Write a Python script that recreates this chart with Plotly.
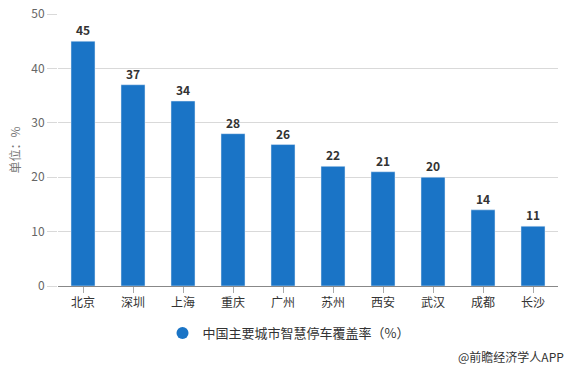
import plotly.graph_objects as go

cities = ["北京", "深圳", "上海", "重庆", "广州", "苏州", "西安", "武汉", "成都", "长沙"]
coverage = [45, 37, 34, 28, 26, 22, 21, 20, 14, 11]
series_name = "中国主要城市智慧停车覆盖率（%）"
y_ticks = [0, 10, 20, 30, 40, 50]

BAR = "#1a74c6"
FONT = "Noto Sans CJK SC, Microsoft YaHei, sans-serif"

fig = go.Figure()
fig.add_trace(go.Bar(
    x=cities, y=coverage, marker_color=BAR, showlegend=False,
    text=[str(v) for v in coverage], textposition="outside",
    textfont=dict(size=12, color="#333333", family=FONT),
    texttemplate="<b>%{text}</b>", cliponaxis=False,
))
fig.add_trace(go.Scatter(
    x=[None], y=[None], mode="markers", name=series_name,
    marker=dict(symbol="circle", size=12, color=BAR),
))

fig.update_layout(
    width=571, height=371,
    margin=dict(l=58, r=13, t=14, b=85, autoexpand=False),
    paper_bgcolor="white", plot_bgcolor="white",
    font=dict(family=FONT, color="#555555", size=12),
    bargap=0.52,
    legend=dict(orientation="h", x=0.209, y=-0.118, xanchor="left", yanchor="top",
                font=dict(size=13, color="#333333"), itemsizing="constant"),
    annotations=[dict(text="@前瞻经济学人APP", xref="paper", yref="paper",
                      x=1.016, y=-0.261, xanchor="right", yanchor="middle",
                      showarrow=False, font=dict(size=12, color="#333333"))],
)
fig.update_yaxes(range=[0, 50], tickvals=y_ticks, showgrid=True, gridcolor="#d9d9d9",
                 ticks="outside", ticklen=10, tickcolor="#d9d9d9", zeroline=False,
                 title=dict(text="单位：%", font=dict(size=12, color="#777777"), standoff=8),
                 tickfont=dict(size=12, color="#666666"))
fig.update_xaxes(showline=True, linecolor="#888888", ticks="outside", ticklen=6,
                 tickcolor="#aaaaaa", tickfont=dict(size=12, color="#333333"))

fig.write_html("out.html", config={"displayModeBar": False},
               post_script="document.body.style.margin='0';")
